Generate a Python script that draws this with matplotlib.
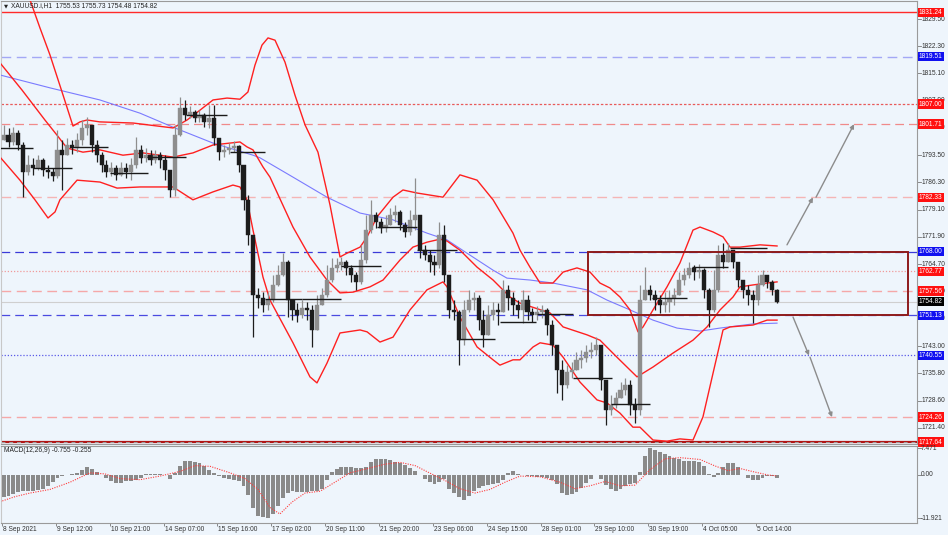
import numpy as np
import matplotlib
matplotlib.use('Agg')
import matplotlib.pyplot as plt
from matplotlib.patches import Rectangle
from matplotlib.transforms import blended_transform_factory as btf

# ---------------- data (H1 bar index on x, price on y) ----------------
first_open = 1797.5
closes = [1798.8, 1797.0, 1799.4, 1796.2, 1789.1, 1790.9, 1790.1, 1792.2, 1789.6, 1789.1,
          1788.0, 1794.9, 1793.5, 1796.2, 1795.4, 1797.5, 1800.7, 1801.5, 1796.2, 1793.5,
          1790.9, 1789.1, 1790.1, 1788.3, 1790.1, 1789.1, 1790.9, 1794.9, 1792.8, 1793.5,
          1792.2, 1793.5, 1792.2, 1789.6, 1784.3, 1798.8, 1806.0, 1804.1, 1804.9, 1803.3,
          1804.1, 1802.3, 1803.3, 1798.0, 1794.3, 1794.9, 1795.4, 1795.9, 1790.9, 1781.7,
          1772.4, 1756.5, 1755.7, 1753.9, 1755.2, 1759.2, 1761.8, 1765.3, 1755.2, 1752.6,
          1751.2, 1753.1, 1752.6, 1747.3, 1753.9, 1756.5, 1760.5, 1763.7, 1764.5, 1765.3,
          1763.7, 1761.8, 1760.0, 1765.8, 1773.7, 1777.7, 1775.8, 1774.3, 1775.0, 1777.7,
          1778.5, 1775.0, 1773.2, 1776.4, 1777.7, 1768.4, 1767.1, 1765.3, 1764.5, 1772.4,
          1761.8, 1752.6, 1752.1, 1744.6, 1752.6, 1755.2, 1755.7, 1749.9, 1746.0, 1751.2,
          1752.6, 1752.1, 1757.9, 1755.7, 1753.9, 1752.6, 1755.2, 1752.1, 1751.2, 1752.1,
          1752.6, 1748.6, 1743.3, 1736.7, 1732.7, 1736.2, 1736.7, 1739.4, 1739.9, 1741.5,
          1742.0, 1743.3, 1734.1, 1726.1, 1727.5, 1729.3, 1731.4, 1732.7, 1727.5, 1726.1,
          1755.2, 1757.9, 1756.5, 1755.2, 1753.9, 1754.7, 1755.7, 1756.5, 1760.5, 1761.8,
          1763.7, 1762.6, 1763.1, 1757.9, 1752.6, 1757.9, 1767.1, 1765.3, 1768.4, 1765.3,
          1760.5, 1757.9, 1756.5, 1755.2, 1759.2, 1761.8, 1760.0, 1757.9, 1754.82]
highs = [1801.5, 1800.7, 1801.0, 1800.2, 1797.0, 1793.5, 1792.8, 1793.5, 1792.8, 1790.9,
         1790.1, 1800.2, 1797.5, 1798.0, 1797.5, 1799.4, 1802.8, 1803.6, 1801.5, 1797.5,
         1794.3, 1792.2, 1791.7, 1790.9, 1791.7, 1791.4, 1792.8, 1798.3, 1796.2, 1795.4,
         1794.9, 1794.9, 1794.3, 1793.5, 1789.6, 1801.5, 1808.9, 1808.1, 1806.5, 1805.4,
         1805.4, 1804.6, 1806.8, 1806.8, 1798.0, 1796.2, 1796.7, 1797.2, 1796.2, 1790.9,
         1783.0, 1772.4, 1758.4, 1757.3, 1757.3, 1761.8, 1764.5, 1767.6, 1765.8, 1755.2,
         1754.4, 1755.2, 1754.7, 1753.9, 1756.5, 1758.4, 1764.5, 1766.3, 1766.3, 1766.6,
         1765.8, 1764.5, 1762.6, 1769.8, 1777.7, 1781.7, 1778.5, 1776.9, 1777.7, 1779.5,
         1780.3, 1779.0, 1775.8, 1779.0, 1787.5, 1777.7, 1769.8, 1768.4, 1767.1, 1775.8,
         1775.0, 1761.8, 1755.2, 1752.6, 1755.2, 1757.9, 1757.3, 1756.5, 1752.6, 1753.9,
         1754.7, 1754.4, 1760.5, 1759.2, 1757.3, 1755.2, 1757.9, 1756.5, 1753.1, 1753.6,
         1753.9, 1753.1, 1749.9, 1743.3, 1739.4, 1738.0, 1738.8, 1741.5, 1742.0, 1743.3,
         1744.1, 1745.4, 1743.3, 1734.1, 1730.1, 1730.9, 1733.5, 1734.6, 1734.1, 1729.3,
         1759.2, 1763.9, 1759.2, 1757.9, 1756.5, 1757.3, 1757.9, 1758.4, 1762.6, 1763.7,
         1765.3, 1764.5, 1764.7, 1763.7, 1758.4, 1763.1, 1769.8, 1770.3, 1770.3, 1768.4,
         1765.3, 1760.5, 1759.2, 1757.9, 1761.8, 1763.1, 1761.8, 1760.5, 1758.2]
lows = [1797.5, 1795.7, 1796.2, 1794.9, 1782.4, 1788.3, 1788.3, 1789.6, 1788.0, 1787.5,
        1786.7, 1787.5, 1784.3, 1793.5, 1793.8, 1794.3, 1796.2, 1798.8, 1794.3, 1791.7,
        1789.1, 1787.7, 1788.0, 1786.9, 1788.0, 1787.5, 1786.9, 1790.1, 1791.4, 1791.7,
        1790.9, 1791.4, 1790.1, 1786.9, 1782.4, 1782.6, 1798.5, 1802.8, 1803.3, 1802.3,
        1802.3, 1801.0, 1800.7, 1796.2, 1792.2, 1793.0, 1793.8, 1794.3, 1789.1, 1779.0,
        1769.8, 1745.4, 1753.1, 1752.1, 1752.6, 1754.8, 1758.9, 1761.5, 1750.7, 1749.9,
        1749.4, 1750.5, 1749.9, 1742.8, 1747.3, 1753.9, 1756.0, 1760.0, 1762.6, 1763.1,
        1761.8, 1760.0, 1757.9, 1759.5, 1765.0, 1773.0, 1774.3, 1772.9, 1773.2, 1775.0,
        1775.8, 1773.7, 1771.9, 1772.4, 1773.7, 1766.3, 1765.8, 1762.6, 1761.8, 1763.7,
        1760.0, 1750.5, 1749.9, 1738.0, 1743.3, 1752.1, 1752.6, 1747.3, 1742.8, 1747.3,
        1749.9, 1748.6, 1752.1, 1752.6, 1751.2, 1750.5, 1749.1, 1749.9, 1749.4, 1749.9,
        1750.5, 1746.0, 1740.7, 1730.6, 1728.8, 1732.0, 1734.6, 1736.7, 1737.2, 1738.8,
        1739.9, 1740.7, 1731.4, 1722.2, 1724.8, 1726.7, 1729.3, 1730.1, 1724.8, 1722.7,
        1724.8, 1755.2, 1755.2, 1752.6, 1751.8, 1752.1, 1752.1, 1753.9, 1756.5, 1759.2,
        1761.0, 1760.5, 1761.0, 1755.7, 1748.1, 1752.1, 1757.3, 1763.7, 1765.3, 1763.7,
        1758.7, 1755.7, 1753.9, 1749.1, 1753.9, 1758.8, 1758.4, 1756.5, 1754.48]

# Bollinger bands and moving average (H1 index, price)
upper_x = [10.4, 17.2, 23.3, 29.4, 37.4, 43.5, 47.8, 52.1, 60.0, 80.3, 104.8, 113.4, 121.3, 129.3,
           137.9, 145.8, 150.7, 155.0, 159.3, 163.0, 167.3, 173.4, 179.5, 185.7, 193.6, 201.0,
           207.1, 211.4, 219.4, 223.7, 229.8, 239.6, 245.7, 254.3, 270.2, 280.6, 291.1, 300.9,
           313.1, 317.4, 323.5, 329.7, 337.6, 343.8, 352.3, 360.3, 366.4, 372.5, 378.7, 384.8,
           389.7, 392.8, 398.9, 407.5, 415.4, 423.4, 427.7, 435.7, 441.8, 446.1, 452.2, 464.5, 474.9]
upper_p = [1842.5, 1834.5, 1827.1, 1820.0, 1809.4, 1801.2, 1802.3, 1802.8, 1802.3, 1802.0, 1800.7,
           1802.8, 1805.4, 1808.1, 1808.6, 1808.3, 1810.2, 1817.3, 1822.6, 1824.5, 1823.9, 1818.1,
           1809.4, 1801.5, 1794.3, 1780.3, 1766.6, 1767.6, 1769.2, 1771.9, 1777.2, 1782.4, 1784.3,
           1783.5, 1782.4, 1788.3, 1786.9, 1781.7, 1772.9, 1768.4, 1763.9, 1759.7, 1759.7, 1762.6,
           1763.7, 1762.6, 1759.7, 1758.4, 1756.0, 1752.6, 1746.8, 1748.1, 1752.6, 1758.7, 1765.0,
           1773.7, 1774.5, 1773.2, 1771.9, 1769.2, 1769.2, 1769.8, 1769.5]
middle_x = [-1.2, 12.3, 26.3, 33.7, 39.8, 49.6, 60.0, 74.1, 86.4, 104.8, 117.0, 129.3, 139.7, 145.8,
            150.1, 153.8, 159.9, 164.2, 178.3, 188.7, 199.1, 207.1, 215.1, 225.5, 233.5, 243.9,
            251.8, 260.4, 268.4, 272.7, 280.6, 291.1, 300.9, 311.3, 317.4, 335.8, 343.8, 358.5,
            366.4, 376.8, 389.1, 398.9, 411.2, 423.4, 432.0, 440.0, 447.9, 452.2, 460.2, 468.8, 474.9]
middle_p = [1817.9, 1810.7, 1802.8, 1798.8, 1795.4, 1794.3, 1794.9, 1793.5, 1794.1, 1793.0, 1794.1,
            1796.2, 1796.7, 1797.0, 1795.7, 1794.9, 1790.4, 1787.7, 1774.5, 1766.6, 1760.5, 1757.1,
            1757.3, 1758.7, 1760.5, 1765.8, 1769.2, 1770.5, 1771.3, 1770.8, 1768.4, 1763.9, 1760.5,
            1756.0, 1754.4, 1751.8, 1748.1, 1746.0, 1744.6, 1740.1, 1734.9, 1737.5, 1741.2, 1744.6,
            1748.1, 1752.6, 1756.0, 1758.7, 1759.2, 1759.7, 1760.0]
lower_x = [-1.2, 11.0, 20.2, 28.2, 32.5, 35.5, 46.0, 60.0, 70.5, 84.6, 104.8, 117.0, 129.3, 141.5,
           145.8, 150.1, 153.8, 159.9, 164.2, 178.3, 188.7, 193.0, 199.1, 207.1, 219.4, 223.7,
           231.6, 239.6, 250.0, 260.4, 270.2, 272.7, 280.6, 291.1, 300.9, 305.1, 313.1, 317.4,
           325.4, 329.7, 337.6, 343.8, 354.2, 364.6, 370.7, 378.7, 386.6, 390.9, 398.9, 407.5,
           415.4, 423.4, 429.5, 435.7, 440.0, 441.8, 446.1, 460.2, 468.8, 474.9]
lower_p = [1793.0, 1786.9, 1781.7, 1776.9, 1778.5, 1781.7, 1786.9, 1786.4, 1784.8, 1785.1, 1785.1,
           1781.7, 1783.8, 1785.6, 1785.1, 1781.7, 1773.7, 1761.3, 1755.2, 1743.9, 1734.9, 1733.3,
           1738.5, 1746.5, 1747.3, 1746.8, 1744.1, 1745.4, 1752.6, 1757.9, 1760.0, 1758.7, 1750.7,
           1742.8, 1739.4, 1738.0, 1739.4, 1739.4, 1742.8, 1743.9, 1743.3, 1740.1, 1733.5, 1728.8,
           1728.0, 1725.3, 1721.6, 1721.6, 1718.2, 1717.9, 1718.5, 1718.2, 1724.3, 1735.9, 1743.9,
           1747.3, 1748.1, 1748.6, 1749.9, 1749.9]
ma_x = [-1.2, 29.4, 60.0, 84.6, 104.8, 129.3, 153.8, 158.1, 178.3, 199.1, 219.4, 239.6, 260.4,
        272.7, 284.9, 300.9, 309.4, 323.5, 337.6, 358.5, 370.7, 384.8, 398.9, 413.6, 427.7,
        440.0, 460.2, 474.9]
ma_p = [1814.7, 1811.3, 1808.1, 1804.6, 1800.9, 1796.7, 1793.5, 1792.8, 1787.7, 1782.4, 1778.2,
        1776.4, 1772.9, 1771.1, 1767.6, 1763.1, 1761.0, 1760.5, 1759.7, 1757.9, 1755.2, 1752.6,
        1749.9, 1747.8, 1747.0, 1747.8, 1748.9, 1749.1]

# daily open segments (start H1, end H1, price)
day_start = [-1.2, 19, 43, 66, 89, 113, 140, 161, 184, 208, 230, 254, 279, 305, 328, 350, 373, 398, 423, 446]
day_end = [19, 43, 65, 89.5, 113, 138, 161, 184, 208, 232, 254, 279, 302, 327, 350, 374, 397, 420, 445, 469]
day_open = [1795.4, 1790.1, 1795.7, 1788.8, 1793.0, 1804.1, 1794.3, 1755.4, 1755.4, 1764.2, 1774.5,
            1768.4, 1744.9, 1749.4, 1751.5, 1734.6, 1727.7, 1755.7, 1763.9, 1768.9]

# MACD histogram (one value per bar) and signal line
macd = [-6.0, -5.8, -5.2, -4.6, -4.3, -4.3, -4.3, -4.1, -3.9, -3.0,
        -2.0, -0.8, -0.3, 0.0, 0.2, 0.5, 1.3, 2.2, 1.6, 0.7,
        0.1, -0.8, -1.8, -2.3, -2.1, -1.8, -1.6, -1.3, -0.9, 0.3,
        0.3, 0.3, 0.2, 0.0, -1.0, 0.5, 2.5, 3.9, 4.0, 3.6,
        3.2, 2.4, 1.4, 0.5, -0.2, -0.8, -1.2, -1.5, -1.8, -3.0,
        -5.6, -9.2, -11.3, -11.7, -11.92, -10.8, -8.5, -6.3, -4.9, -4.5,
        -4.8, -4.8, -4.8, -4.5, -4.3, -4.0, -1.5, 0.7, 1.6, 2.1,
        2.2, 2.2, 1.9, 1.8, 2.1, 3.7, 4.4, 4.4, 4.3, 4.1,
        3.7, 3.3, 2.7, 2.0, 1.2, 0.0, -1.2, -2.0, -2.4, -2.0,
        -1.2, -3.8, -5.0, -6.2, -7.0, -5.8, -4.5, -3.6, -3.0, -2.8,
        -2.6, -2.3, -1.5, 0.5, 1.2, 0.3, 0.0, -0.2, -0.4, -0.5,
        -0.6, -0.7, -1.5, -2.6, -4.9, -5.5, -5.3, -4.8, -3.7, -2.3,
        -1.0, -0.1, -1.0, -2.7, -4.0, -4.3, -3.8, -3.1, -2.6, -2.2,
        0.8, 5.2, 7.471, 7.0, 6.4, 5.9, 5.3, 4.8, 4.3, 4.0,
        4.0, 4.0, 3.6, 2.6, 0.4, -0.5, 0.5, 2.3, 3.2, 3.3,
        2.2, 0.0, -0.7, -1.3, -1.5, -0.8, -0.3, -0.3, -0.755]
signal_x = [-1.2, 8.0, 17.2, 29.4, 41.7, 53.9, 63.1, 72.3, 84.6, 96.8, 109.1, 118.3, 127.5, 139.7,
            148.9, 156.9, 164.2, 170.3, 177.7, 185.7, 194.9, 204.0, 213.2, 222.4, 234.7, 243.9,
            253.1, 262.3, 271.4, 280.6, 289.8, 299.0, 308.2, 317.4, 329.7, 341.9, 351.1, 360.3,
            369.5, 378.7, 387.9, 397.1, 406.3, 415.4, 427.7, 436.9, 444.9, 452.2, 461.4, 469.4, 474.9]
signal_v = [-7.4, -6.0, -5.0, -4.0, -2.0, 0.6, 0.3, -1.0, -1.3, -0.3, 1.0, 2.6, 2.4, 0.6, -1.0,
            -4.0, -9.0, -10.8, -7.5, -5.0, -4.5, -2.0, 0.6, 1.6, 3.0, 3.5, 2.6, 0.5, -1.5, -3.8,
            -5.0, -4.0, -2.0, -0.3, -0.5, -2.0, -3.8, -3.0, -1.8, -3.0, -2.8, 1.5, 4.5, 4.8, 4.3,
            2.5, 1.2, 1.8, 0.8, 0.0, -0.255]

# horizontal levels
level_prices = [1831.24, 1819.51, 1807.00, 1801.71, 1782.33, 1768.00, 1762.77, 1757.56,
                1751.13, 1740.55, 1724.26, 1717.64]
level_kind = ['red', 'blue', 'red', 'red', 'red', 'blue', 'red', 'red', 'blue', 'blue', 'red', 'red']
bid_price = 1754.82

# rectangle zone and arrows
zone_x = [359.1, 555.1]
zone_p = [1751.13, 1768.00]
arrows = [((481.0, 1769.8), (496.9, 1782.33)), ((498.8, 1782.4), (522.1, 1801.71)),
          ((484.7, 1750.7), (494.5, 1740.55)), ((495.1, 1740.1), (508.6, 1724.26))]

ytick_labels = ['1829.50', '1822.30', '1815.10', '1807.90', '1800.70', '1793.50', '1786.30', '1779.10',
                '1771.90', '1764.70', '1757.50', '1750.30', '1743.00', '1735.80', '1728.60', '1721.40']
xtick_labels = ['8 Sep 2021', '9 Sep 12:00', '10 Sep 21:00', '14 Sep 07:00', '15 Sep 16:00',
                '17 Sep 02:00', '20 Sep 11:00', '21 Sep 20:00', '23 Sep 06:00', '24 Sep 15:00',
                '28 Sep 01:00', '29 Sep 10:00', '30 Sep 19:00', '4 Oct 05:00', '5 Oct 14:00']
macd_ticks = [7.471, 0.0, -11.921]
macd_tick_labels = ['7.471', '0.00', '-11.921']

# ---------------- figure ----------------
W, H = 948, 535
BG = '#eef5fc'
FONT = ['Liberation Sans', 'DejaVu Sans']
FS = 4.8
fig = plt.figure(figsize=(W / 100, H / 100), dpi=100)
fig.patch.set_facecolor(BG)


def axrect(x0, y0, x1, y1):
    return [x0 / W, 1 - y1 / H, (x1 - x0) / W, (y1 - y0) / H]


ax = fig.add_axes(axrect(1, 1, 917, 444))
ax2 = fig.add_axes(axrect(1, 446, 917, 523), sharex=ax)
for a in (ax, ax2):
    a.set_facecolor(BG)
    for s in a.spines.values():
        s.set_color('#9a9a9a')
        s.set_linewidth(0.8)
    a.spines['left'].set_color('#c8c8c8')
ax.set_xlim(-0.61, 560.66)
ax.set_ylim(1717.15, 1834.26)
ax2.set_ylim(-13.30, 8.03)

n = len(closes)
xs = np.arange(n) * 3 + 1
c = np.array(closes)
o = np.r_[first_open, c[:-1]]
hi = np.maximum(np.array(highs), np.maximum(o, c))
lo = np.minimum(np.array(lows), np.minimum(o, c))

# levels
red_styles = {1831.24: ('#ff2a2a', '-', 1.0), 1807.00: ('#e85a5a', (0, (2, 1.5)), 0.9),
              1801.71: ('#f08a8a', (0, (7, 4)), 0.9), 1782.33: ('#f5b5b5', (0, (7, 4)), 1.0),
              1762.77: ('#f09a9a', (0, (1, 1.5)), 0.9), 1757.56: ('#f5a8a8', (0, (7, 4)), 1.0),
              1724.26: ('#f5a8a8', (0, (7, 4)), 1.0), 1717.64: ('#b01515', '-', 1.6)}
blue_styles = {1819.51: ('#a3a8f5', (0, (7, 4)), 1.0), 1768.00: ('#3a3ad8', (0, (7, 4)), 0.9),
               1751.13: ('#4a4ae0', (0, (7, 4)), 0.9), 1740.55: ('#5a5ae8', (0, (1, 1.5)), 0.9)}
for p, k in zip(level_prices, level_kind):
    col, ls, lw = (red_styles if k == 'red' else blue_styles)[p]
    ax.axhline(p, color=col, ls=ls, lw=lw, zorder=2)
ax.axhline(1717.64, color='#a0a0a0', ls=(0, (4, 4)), lw=0.7, zorder=2.1)
ax.axhline(bid_price, color='#cfcfcf', lw=0.8, zorder=1.5)

# indicators
ax.plot(ma_x, ma_p, color='#7a7aff', lw=0.8, zorder=3)
for bx, bp in ((upper_x, upper_p), (middle_x, middle_p), (lower_x, lower_p)):
    ax.plot(bx, bp, color='#ff2020', lw=1.0, zorder=3.2)

# daily open lines
ax.hlines(day_open, day_start, day_end, colors='#1a1a1a', lw=1.0, zorder=5)

# candles
up = c >= o
cols = np.where(up, '#8e8e8e', '#1c1c1c')
ax.vlines(xs, lo, hi, colors=cols, lw=0.9, zorder=4)
ax.bar(xs, np.maximum(np.abs(c - o), 0.25), bottom=np.minimum(o, c), width=2.5,
       color=cols, edgecolor=cols, lw=0.3, zorder=4)

# zone rectangle
ax.add_patch(Rectangle((zone_x[0], zone_p[0]), zone_x[1] - zone_x[0], zone_p[1] - zone_p[0],
                       fill=False, ec='#8e1b1b', lw=1.4, zorder=6))
# arrows
for (x0, y0), (x1, y1) in arrows:
    ax.annotate('', xy=(x1, y1), xytext=(x0, y0),
                arrowprops=dict(arrowstyle='-|>', color='#8c8c8c', lw=1.0,
                                mutation_scale=6, shrinkA=0, shrinkB=0), zorder=6)

# right price scale
tr = btf(ax.transAxes, ax.transData)
for lab in ytick_labels:
    v = float(lab)
    ax.plot([1.0, 1.004], [v, v], transform=tr, color='#777777', lw=0.6, clip_on=False)
    ax.text(1.0045, v, lab, transform=tr, fontsize=FS, family=FONT, color='#333333',
            va='center', ha='left', clip_on=False)
tag_col = {'red': '#ff1010', 'blue': '#1010f0'}
for p, k in zip(level_prices, level_kind):
    ax.text(1.0022, p, f'{p:.2f}', transform=tr, fontsize=FS, family=FONT, color='white',
            va='center', ha='left', clip_on=False, zorder=10,
            bbox=dict(boxstyle='square,pad=0.18', fc=tag_col[k], ec='none'))
ax.text(1.0022, bid_price, f'{bid_price:.2f}', transform=tr, fontsize=FS, family=FONT,
        color='white', va='center', ha='left', clip_on=False, zorder=10,
        bbox=dict(boxstyle='square,pad=0.18', fc='#000000', ec='none'))

# title
fig.text(4 / W, 1 - 5.5 / H, '\u25bc', fontsize=3.8, family=['DejaVu Sans'], va='center', color='#222222')
fig.text(11 / W, 1 - 5.5 / H, 'XAUUSD.i,H1  1755.53 1755.73 1754.48 1754.82', fontsize=FS,
         family=FONT, va='center', color='#222222')

# MACD panel
ax2.bar(xs, macd, width=2.4, color='#8a8a8a', lw=0, zorder=3)
ax2.plot(signal_x, signal_v, color='#ff3b3b', lw=0.8, ls=(0, (1, 1.2)), zorder=4)
ax2.text(0.003, 0.985, 'MACD(12,26,9) -0.755 -0.255', transform=ax2.transAxes, fontsize=FS,
         family=FONT, va='top', ha='left', color='#222222')
tr2 = btf(ax2.transAxes, ax2.transData)
for v, lab in zip(macd_ticks, macd_tick_labels):
    ax2.plot([1.0, 1.004], [v, v], transform=tr2, color='#777777', lw=0.6, clip_on=False)
    ax2.text(1.0045, v, lab, transform=tr2, fontsize=FS, family=FONT, color='#333333',
             va='center', ha='left', clip_on=False)

ax.tick_params(left=False, right=False, top=False, bottom=False,
               labelleft=False, labelbottom=False)
xt = np.arange(len(xtick_labels)) * 33
ax2.set_xticks(xt)
ax2.tick_params(axis='x', direction='out', length=2.5, width=0.6, color='#777777', labelbottom=False)
ax2.tick_params(axis='y', left=False, right=False, labelleft=False)
trx = btf(ax2.transData, ax2.transAxes)
for xv, lab in zip(xt, xtick_labels):
    ax2.text(xv + 0.6, -0.035, lab, transform=trx, fontsize=FS, family=FONT, color='#333333',
             va='top', ha='left', clip_on=False)

fig.savefig('out.png', dpi=100, facecolor=BG)
